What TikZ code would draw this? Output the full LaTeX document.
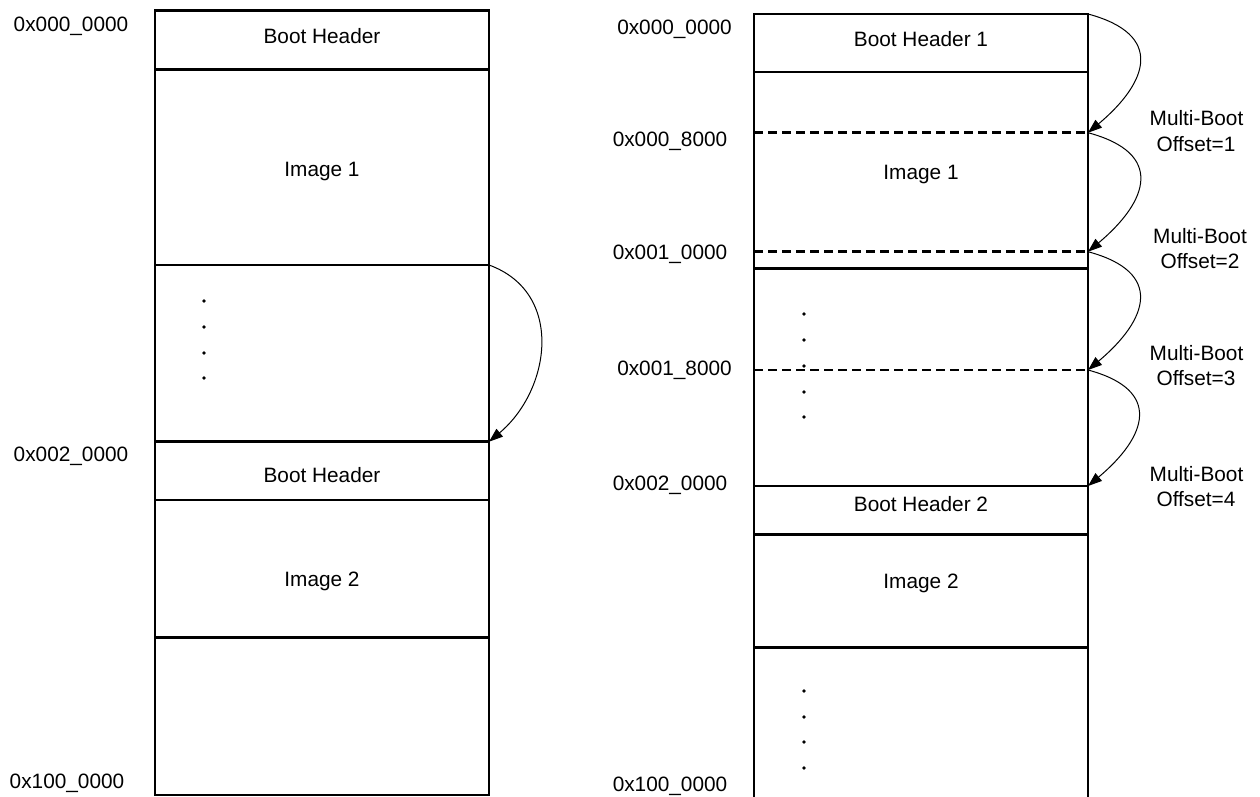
\documentclass[tikz,border=0pt]{standalone}
\usepackage{fontspec}
\setmainfont{Liberation Sans}
\usetikzlibrary{arrows.meta}
\begin{document}
\begin{tikzpicture}[x=1pt,y=-1pt,
  mem/.style={line width=2.6pt},
  dsh/.style={line width=2.6pt,dash pattern=on 9pt off 5pt},
  lbl/.style={anchor=base,font=\fontsize{20.8}{25}\selectfont,inner sep=0pt},
  dotm/.style={fill=black,circle,inner sep=0pt,minimum size=3.6pt},
  jump/.style={line width=1pt,-{Triangle[length=14pt,width=10pt]}},
]
\useasboundingbox (0,0) rectangle (1260,797);

% ---------- left memory map ----------
\draw[mem] (155,10.7) rectangle (489,795);
\draw[mem] (155,69.3) -- (489,69.3);
\draw[mem] (155,265) -- (489,265);
\draw[mem] (155,441.7) -- (489,441.7);
\draw[mem] (155,500) -- (489,500);
\draw[mem] (155,637.7) -- (489,637.7);

\node[lbl] (la0) at (71,31.7) {0x000\_0000};
\node[lbl] (la2) at (71,461) {0x002\_0000};
\node[lbl] (la3) at (67,788) {0x100\_0000};

\node[lbl] (lbh1) at (322,43.3) {Boot Header};
\node[lbl] (limg1) at (322,176) {Image 1};
\node[lbl] (lbh2) at (322,482.7) {Boot Header};
\node[lbl] (limg2) at (322,586) {Image 2};

\node[dotm] (ld1) at (204,301) {};
\node[dotm] (ld2) at (204,327) {};
\node[dotm] (ld3) at (204,353) {};
\node[dotm] (ld4) at (204,378) {};

\coordinate (La) at (489,265);
\coordinate (Lb) at (489,441.7);
\draw[jump] (La) to[out=-20,in=40,looseness=1.17] (Lb);

% ---------- right memory map ----------
\draw[mem] (754,797) -- (754,14) -- (1088,14) -- (1088,797);
\draw[mem] (754,72) -- (1088,72);
\draw[dsh] (754,132.7) -- (1088,132.7);
\draw[dsh] (754,251.7) -- (1088,251.7);
\draw[mem] (754,268.3) -- (1088,268.3);
\draw[dsh] (754,370) -- (1088,370);
\draw[mem] (754,486) -- (1088,486);
\draw[mem] (754,534.3) -- (1088,534.3);
\draw[mem] (754,647.3) -- (1088,647.3);

\node[lbl] (ra0) at (674.5,35) {0x000\_0000};
\node[lbl] (ra1) at (670,146.7) {0x000\_8000};
\node[lbl] (ra2) at (670,259) {0x001\_0000};
\node[lbl] (ra3) at (674.5,375) {0x001\_8000};
\node[lbl] (ra4) at (670,490) {0x002\_0000};
\node[lbl] (ra5) at (670,791.7) {0x100\_0000};

\node[lbl] (rbh1) at (921,46.7) {Boot Header 1};
\node[lbl] (rimg1) at (921,179) {Image 1};
\node[lbl] (rbh2) at (921,511.7) {Boot Header 2};
\node[lbl] (rimg2) at (921,588.3) {Image 2};

\node[dotm] (rd1) at (804,314) {};
\node[dotm] (rd2) at (804,340) {};
\node[dotm] (rd3) at (804,366) {};
\node[dotm] (rd4) at (804,392) {};
\node[dotm] (rd5) at (804,417) {};
\node[dotm] (rd6) at (804,691) {};
\node[dotm] (rd7) at (804,717) {};
\node[dotm] (rd8) at (804,742) {};
\node[dotm] (rd9) at (804,768) {};

\coordinate (R0) at (1088,14);
\coordinate (R1) at (1088,132.7);
\coordinate (R2) at (1088,251.7);
\coordinate (R3) at (1088,370);
\coordinate (R4) at (1088,486);
\draw[jump] (R0) to[out=-15,in=40,looseness=1.71] (R1);
\draw[jump] (R1) to[out=-15,in=40,looseness=1.71] (R2);
\draw[jump] (R2) to[out=-15,in=40,looseness=1.71] (R3);
\draw[jump] (R3) to[out=-15,in=40,looseness=1.71] (R4);

\node[lbl] (mb1a) at (1196.5,125.7) {Multi-Boot};
\node[lbl] (mb1b) at (1196,151.7) {Offset=1};
\node[lbl] (mb2a) at (1200,243.3) {Multi-Boot};
\node[lbl] (mb2b) at (1200,268.3) {Offset=2};
\node[lbl] (mb3a) at (1196.5,360) {Multi-Boot};
\node[lbl] (mb3b) at (1196,385) {Offset=3};
\node[lbl] (mb4a) at (1196.5,481) {Multi-Boot};
\node[lbl] (mb4b) at (1196,506.7) {Offset=4};
\end{tikzpicture}
\end{document}
